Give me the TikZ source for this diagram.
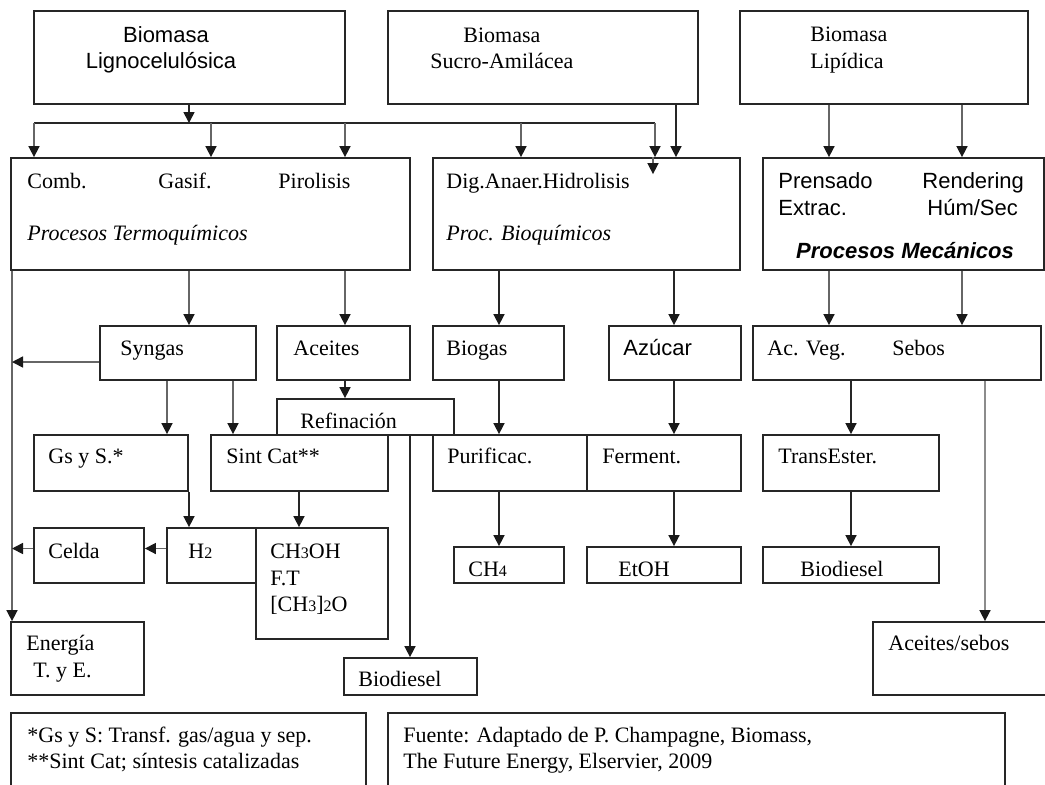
\documentclass[tikz,border=0pt]{standalone}
\usepackage{fontspec}
\setmainfont{Liberation Serif}
\setsansfont{Liberation Sans}
\usetikzlibrary{arrows.meta,fit}
\newcommand{\smdig}[1]{{\fontsize{8}{8}\selectfont #1}}

\begin{document}
\begin{tikzpicture}[x=0.5pt, y=-0.5pt,
  box/.style={draw=black!85, line width=0.9pt, inner sep=0pt},
  txt/.style={anchor=base west, inner sep=0pt, font=\fontsize{11}{13.5}\selectfont},
  sans/.style={txt, font=\fontsize{11}{13.5}\selectfont\sffamily},
  arr/.style={draw=black!85, line width=0.8pt, -{Triangle[length=5.5pt,width=5.5pt,color=black!90]}},
  garr/.style={arr, draw=black!60},
  line/.style={draw=black!85, line width=0.8pt}
]
\fill[white] (0,0) rectangle (1045,784);
\useasboundingbox (0,0) rectangle (1045,784);

% Biomasa
\node[box, fit={(34,11) (345,104)}] (ligno) {};
\node[sans, anchor=base] (lignoA) at (166,42) {Biomasa};
\node[sans, anchor=base] (lignoB) at (161,68) {Lignocelulósica};
\node[box, fit={(388,11) (698,104)}] (sucro) {};
\node[txt] (sucroA) at (463,42) {Biomasa};
\node[txt] (sucroB) at (430,68) {Sucro-Amilácea};
\node[box, fit={(740,11) (1028,104)}] (lipid) {};
\node[txt] (lipidA) at (810,41) {Biomasa};
\node[txt] (lipidB) at (810,68) {Lipídica};

% Procesos
\node[box, fit={(11,158) (410,270)}] (termo) {};
\node[txt] (comb) at (27,188) {Comb.};
\node[txt] (gasif) at (158,188) {Gasif.};
\node[txt] (piro) at (278,188) {Pirolisis};
\node[txt, font=\fontsize{11}{13.5}\selectfont\itshape] (termoT) at (27,240) {Procesos Termoquímicos};
\node[box, fit={(433,158) (740,270)}] (bioq) {};
\node[txt] (dig) at (446,188) {Dig.Anaer.Hidrolisis};
\node[txt, font=\fontsize{11}{13.5}\selectfont\itshape] (bioqT) at (446,240) {Proc. Bioquímicos};
\node[box, fit={(763,158) (1044,270)}] (mec) {};
\node[sans] (prens) at (778,188) {Prensado};
\node[sans] (extrac) at (778,215) {Extrac.};
\node[sans] (rend) at (922,188) {Rendering};
\node[sans] (hum) at (927,215) {Húm/Sec};
\node[sans, anchor=base, font=\fontsize{11}{13.5}\selectfont\sffamily\bfseries\itshape] (mecT) at (905,258) {Procesos Mecánicos};

% Productos intermedios
\node[box, fit={(100,326) (256,380)}] (syngas) {};
\node[txt] (syngasT) at (120,355) {Syngas};
\node[box, fit={(277,326) (410,380)}] (aceites) {};
\node[txt] (aceitesT) at (293,355) {Aceites};
\node[box, fit={(433,326) (564,380)}] (biogas) {};
\node[txt] (biogasT) at (446,355) {Biogas};
\node[box, fit={(609,326) (741,380)}] (azucar) {};
\node[sans] (azucarT) at (623,355) {Azúcar};
\node[box, fit={(753,326) (1041,380)}] (acveg) {};
\node[txt] (acvegT) at (767,355) {Ac. Veg.};
\node[txt] (sebosT) at (892,355) {Sebos};

\node[box, fit={(277,399) (454,435)}] (refin) {};
\node[txt] (refinT) at (300,428) {Refinación};

% Conversion
\node[box, fit={(34,435) (188,491)}] (gsys) {};
\node[txt] (gsysT) at (48,463) {Gs y S.*};
\node[box, fit={(211,435) (388,491)}] (sintcat) {};
\node[txt] (sintcatT) at (226,463) {Sint Cat**};
\node[box, fit={(433,435) (587,491)}] (purif) {};
\node[txt] (purifT) at (447,463) {Purificac.};
\node[box, fit={(587,435) (741,491)}] (ferment) {};
\node[txt] (fermentT) at (602,463) {Ferment.};
\node[box, fit={(763,435) (939,491)}] (transest) {};
\node[txt] (transestT) at (778,463) {TransEster.};

% Productos finales
\node[box, fit={(34,528) (144,583)}] (celda) {};
\node[txt] (celdaT) at (48,558) {Celda};
\node[box, fit={(167,528) (256,583)}] (h2) {};
\node[txt] (h2T) at (188,558) {H\smdig{2}};
\node[box, fit={(256,528) (388,639)}] (ch3oh) {};
\node[txt] (ch3ohA) at (270,558) {CH\smdig{3}OH};
\node[txt] (ch3ohB) at (270,585) {F.T};
\node[txt] (ch3ohC) at (270,611) {[CH\smdig{3}]\smdig{2}O};
\node[box, fit={(454,547) (564,583)}] (ch4) {};
\node[txt] (ch4T) at (468,576) {CH\smdig{4}};
\node[box, fit={(587,547) (741,583)}] (etoh) {};
\node[txt] (etohT) at (618,576) {EtOH};
\node[box, fit={(763,547) (939,583)}] (biodR) {};
\node[txt] (biodRT) at (800,576) {Biodiesel};
\node[box, fit={(11,622) (144,695)}] (energia) {};
\node[txt] (energiaA) at (26,650) {Energía};
\node[txt] (energiaB) at (33,677) {T. y E.};
\node[box, fit={(344,658) (477,695)}] (biodL) {};
\node[txt] (biodLT) at (358,686) {Biodiesel};
\node[box, fit={(873,622) (1060,695)}] (acseb) {};
\node[txt] (acsebT) at (888,650) {Aceites/sebos};

% Notas
\node[box, fit={(11,713) (366,800)}] (notas) {};
\node[txt] (notaA) at (27,742) {*Gs y S: Transf. gas/agua y sep.};
\node[txt] (notaB) at (27,768) {**Sint Cat; síntesis catalizadas};
\node[box, fit={(388,713) (1005,800)}] (fuente) {};
\node[txt] (fuenteA) at (403,742) {Fuente: Adaptado de P. Champagne, Biomass,};
\node[txt] (fuenteB) at (403,768) {The Future Energy, Elservier, 2009};

% Reparto de la biomasa lignocelulosica
\coordinate (dist) at (189,123);
\coordinate (distL) at (34,123);
\coordinate (distR) at (655,123);
\draw[arr] (ligno.south -| dist) -- (dist);
\draw[line] (distL) -- (distR);
\foreach \xx in {34,211,345,521,655}
  \draw[garr] (distL -| \xx,0) -- (termo.north -| \xx,0);
\draw[garr] (bioq.north -| 653,0) -- ++(0,17);
\draw[arr] (sucro.south -| 676,0) -- (bioq.north -| 676,0);
\foreach \xx in {829,962}
  \draw[garr] (lipid.south -| \xx,0) -- (mec.north -| \xx,0);

% Procesos -> productos
\coordinate (bus) at (12,270);
\draw[garr] (termo.south -| bus) -- (energia.north -| bus);
\draw[garr] (termo.south -| 189,0) -- (syngas.north -| 189,0);
\draw[garr] (termo.south -| 345,0) -- (aceites.north -| 345,0);
\draw[arr] (bioq.south -| 499,0) -- (biogas.north -| 499,0);
\draw[arr] (bioq.south -| 674,0) -- (azucar.north -| 674,0);
\foreach \xx in {829,962}
  \draw[garr] (mec.south -| \xx,0) -- (acveg.north -| \xx,0);

\draw[garr] ([yshift=-4.5pt]syngas.west) -- ([yshift=-4.5pt]syngas.west -| bus);
\draw[garr] (syngas.south -| 167,0) -- (gsys.north -| 167,0);
\draw[garr] (syngas.south -| 233,0) -- (sintcat.north -| 233,0);
\draw[arr] (aceites.south -| 345,0) -- (refin.north -| 345,0);
\draw[arr] (refin.south -| 410,0) -- (biodL.north -| 410,0);
\draw[arr] (biogas.south -| 499,0) -- (purif.north -| 499,0);
\draw[arr] (azucar.south -| 674,0) -- (ferment.north -| 674,0);
\draw[arr] (acveg.south -| 851,0) -- (transest.north -| 851,0);
\draw[garr, draw=black!45] (acveg.south -| 985,0) -- (acseb.north -| 985,0);

% Conversion -> productos finales
\draw[arr] (gsys.south -| 189,0) -- (h2.north -| 189,0);
\draw[arr] (sintcat.south -| 299,0) -- (ch3oh.north -| 299,0);
\draw[garr] ([yshift=3.5pt]h2.west) -- ([yshift=3.5pt]celda.east);
\draw[garr] ([yshift=3.5pt]celda.west) -- ([yshift=3.5pt]celda.west -| bus);
\draw[arr] (purif.south -| 499,0) -- (ch4.north -| 499,0);
\draw[arr] (ferment.south -| 674,0) -- (etoh.north -| 674,0);
\draw[arr] (transest.south -| 851,0) -- (biodR.north -| 851,0);

\end{tikzpicture}
\end{document}
